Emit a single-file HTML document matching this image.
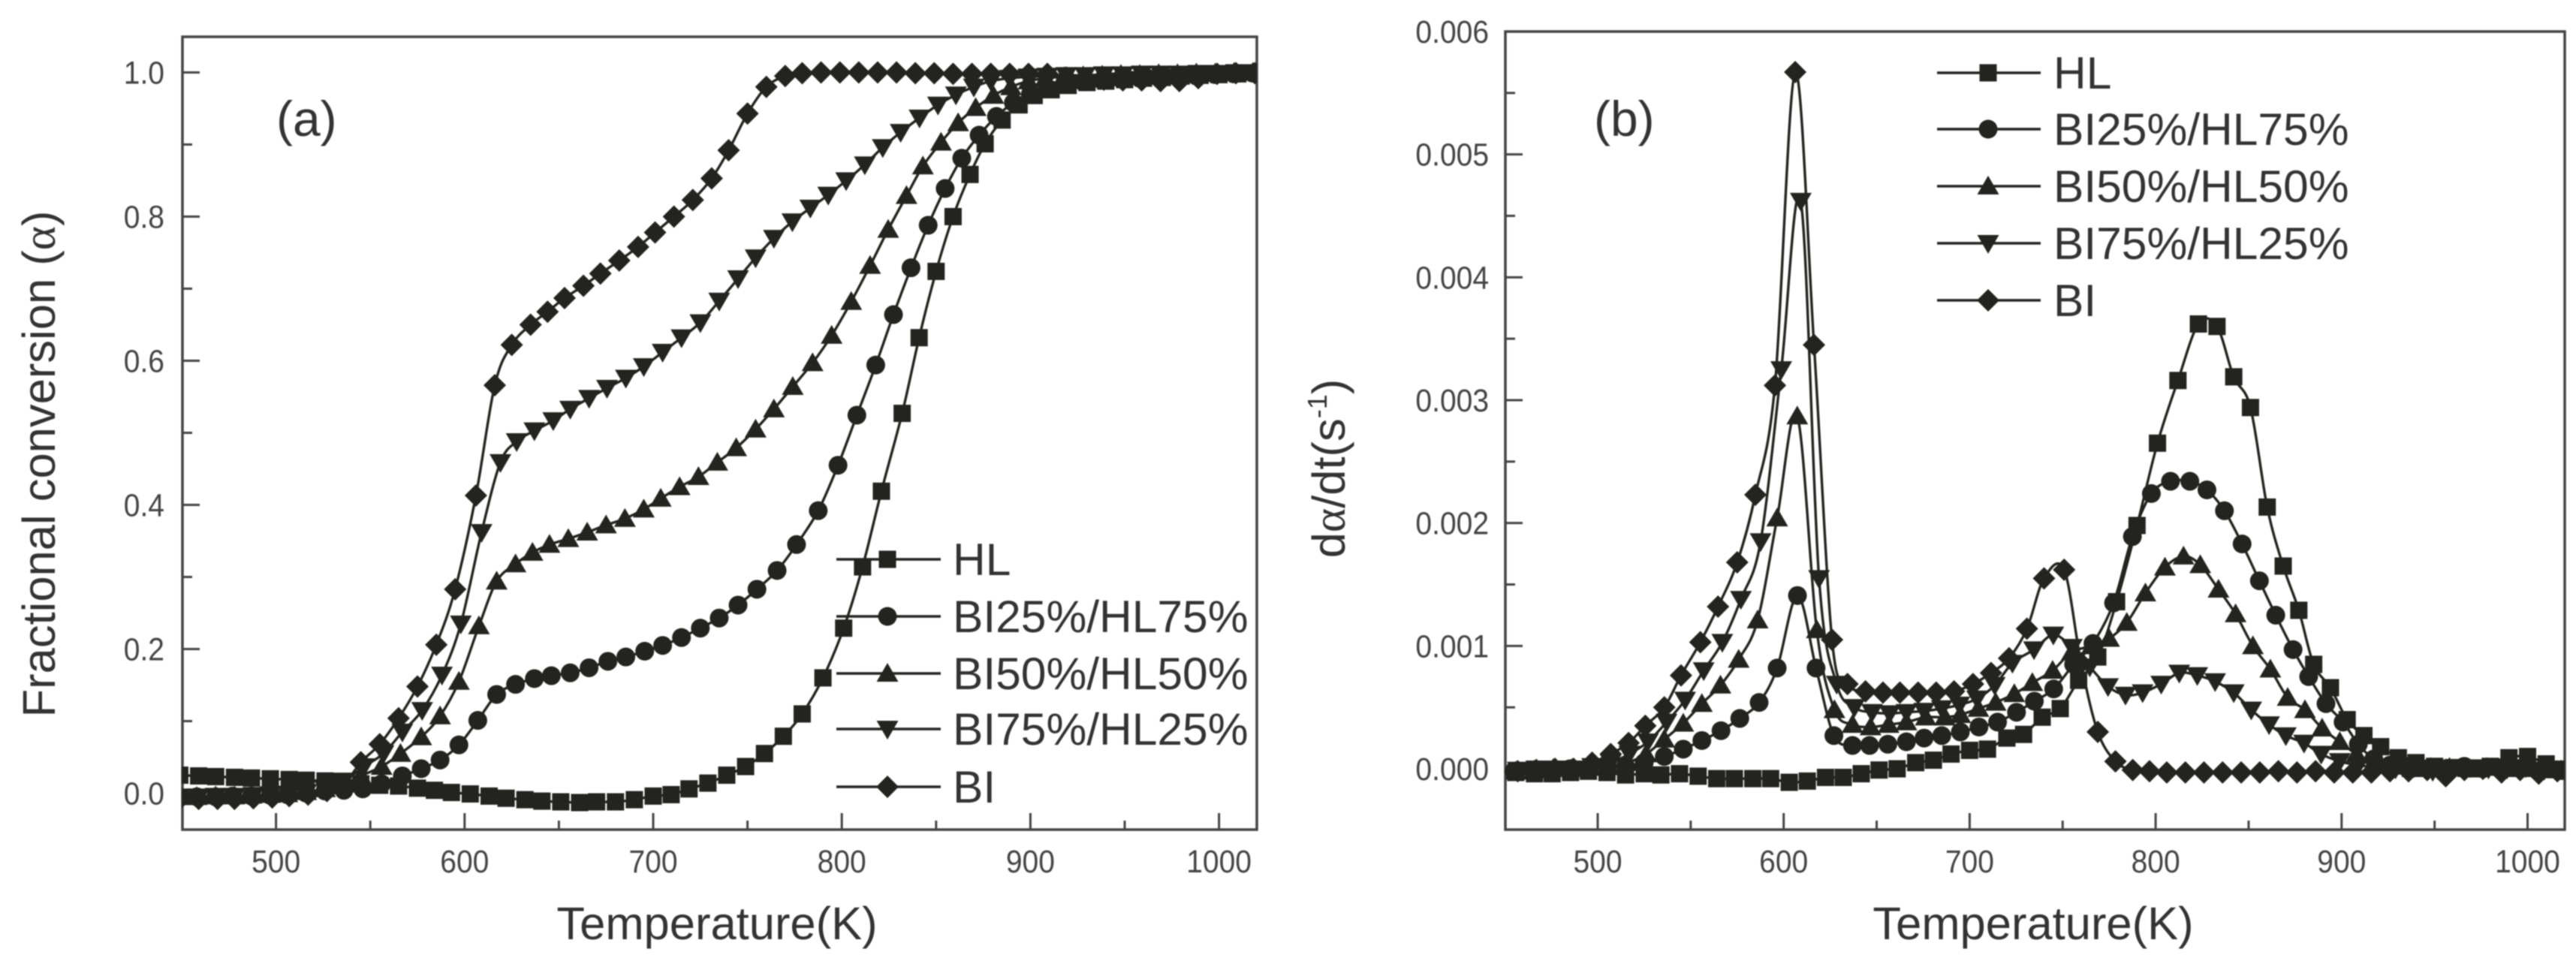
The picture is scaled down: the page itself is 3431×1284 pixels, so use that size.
<!DOCTYPE html>
<html lang="en">
<head>
<meta charset="utf-8">
<title>Fractional conversion and conversion rate vs temperature</title>
<style>
html,body{margin:0;padding:0;background:#fff;}
body{width:3431px;height:1284px;overflow:hidden;}
svg{display:block;filter:blur(0.7px);}
text{font-family:"Liberation Sans",sans-serif;fill:#333;}
.tick-label{font-size:39px;fill:#444;}
.axis-title{font-size:61.5px;}
.legend-label{font-size:60.5px;}
.panel-tag{font-size:66px;}
</style>
</head>
<body>
<svg id="figure" xmlns="http://www.w3.org/2000/svg" width="3431" height="1284" viewBox="0 0 3431 1284">
  <defs>
    <clipPath id="clip-a"><rect x="242" y="49" width="1432" height="1056"/></clipPath>
    <clipPath id="clip-b"><rect x="2004" y="42" width="1412" height="1063"/></clipPath>
  </defs>
  <g id="panel-a">
    <rect x="243" y="49" width="1431" height="1056" fill="none" stroke="#444" stroke-width="3.5"/>
    <g id="ticks-a"></g>
    <g id="series-a" clip-path="url(#clip-a)"></g>
    <g id="legend-a"></g>
    <text class="panel-tag" x="368" y="181">(a)</text>
    <text class="axis-title" x="955" y="1251" text-anchor="middle">Temperature(K)</text>
    <text class="axis-title" transform="translate(73,618) rotate(-90)" text-anchor="middle">Fractional conversion (<tspan font-family="Liberation Serif, serif">α</tspan>)</text>
  </g>
  <g id="panel-b">
    <rect x="2005" y="42" width="1411" height="1063" fill="none" stroke="#444" stroke-width="3.5"/>
    <g id="ticks-b"></g>
    <g id="series-b" clip-path="url(#clip-b)"></g>
    <g id="legend-b"></g>
    <text class="panel-tag" x="2123" y="181">(b)</text>
    <text class="axis-title" x="2708" y="1251" text-anchor="middle">Temperature(K)</text>
    <text class="axis-title" transform="translate(1791,624) rotate(-90)" text-anchor="middle">d<tspan font-family="Liberation Serif, serif">α</tspan>/dt(s<tspan font-size="36" dy="-24">-1</tspan><tspan dy="24">)</tspan></text>
  </g>
</svg>
<script>
// ---------- shared tick data ----------
const xTickValues = [500, 600, 700, 800, 900, 1000];
const xMinorValues = [550, 650, 750, 850, 950];
const aYTickValues = [0, 0.2, 0.4, 0.6, 0.8, 1.0];
const aYMinorValues = [0.1, 0.3, 0.5, 0.7, 0.9];
const bYTickValues = [0, 0.001, 0.002, 0.003, 0.004, 0.005, 0.006];
const bYMinorValues = [0.0005, 0.0015, 0.0025, 0.0035, 0.0045, 0.0055];
const legendNames = ['HL', 'BI25%/HL75%', 'BI50%/HL50%', 'BI75%/HL25%', 'BI'];
const seriesShapes = ['square', 'circle', 'up', 'down', 'diamond'];

// ---------- panel (a): fractional conversion ----------
const aHlT = [449,459,468,478,487,497,507,516,526,535,545,555,565,575,584,593,603,613,622,632,641,651,661,670,680,690,700,709.5,719,729,739,749,759,769,779,790,801,811,821,832,841,850,859,868,876,885,894,902,911,920,930,940,950,960,970,980,990,1000,1010,1020];
const aHlV = [.025,.024,.023,.022,.021,.020,.019,.018,.017,.016,.013,.011,.010,.007,.004,.001,-.001,-.004,-.007,-.009,-.011,-.012,-.013,-.012,-.012,-.009,-.004,-.002,.006,.014,.025,.037,.055,.079,.110,.160,.229,.314,.419,.527,.632,.724,.80,.8585,.901,.934,.955,.968,.976,.982,.986,.988,.99,.992,.993,.995,.996,.997,.998,.999];
const aBi25T = [449,458,468,477,487,497,506,516,526,536,546,556,567,577,587,597,607,617,627,637,646,656,666,676,685.5,695.5,705,715,725,735,745,755,765.7,776,787.5,798,808,818,827.4,836.7,845.8,854.8,863.6,872.8,882,891,900,909,918,928,938,948,958,968,978,988,998,1008,1018];
const aBi25V = [-.006,-.005,-.005,-.004,-.004,-.003,-.002,0,.003,.004,.006,.013,.024,.034,.046,.067,.101,.137,.151,.159,.163,.167,.174,.183,.189,.197,.205,.216,.229,.243,.261,.283,.309,.345,.392,.455,.5245,.594,.664,.729,.788,.839,.881,.913,.939,.958,.970,.978,.984,.987,.989,.991,.992,.993,.994,.995,.997,.998,.999];
const aBi50T = [449,458,468,478,487,497,506,516,526,536,545,556,566,577,587,597,607.6,617,627,636,645,655,665,675,685,695,704,714,724,734,744,754.3,764,774,784.5,794.6,805,815,824.6,834.3,843,852.6,861.7,871,880.4,889.7,899,908,918,928,938,948,958,968,978,988,998,1008,1018];
const aBi50V = [-.005,-.005,-.004,-.004,-.003,-.002,-.001,.002,.006,.013,.024,.037,.055,.078,.107,.155,.232,.294,.318,.334,.345,.353,.362,.372,.381,.394,.409,.425,.439,.459,.479,.505,.533,.564,.597,.635,.682,.732,.782,.829,.87,.903,.93,.951,.968,.98,.988,.992,.994,.995,.996,.997,.997,.998,.998,.999,.999,1,1];
const aBi75T = [449,459,468,478,488,497,507,516,526,536,546.6,557,567,577.5,588,598,609,619,627.6,637,647,656,666,675.5,685.5,695,705,715,725,735,745,754.3,764,773.8,783.3,792.8,802.3,812.2,821.7,831.2,841.2,851,860.5,870,879,889,899,909,919,929,939,949,959,969,979,989,999,1009,1019];
const aBi75V = [-.005,-.005,-.004,-.004,-.003,-.002,-.001,.001,.006,.017,.037,.055,.085,.115,.164,.235,.362,.459,.488,.503,.517,.533,.548,.562,.576,.592,.612,.632,.653,.683,.714,.743,.77,.793,.812,.83,.85,.872,.896,.917,.937,.955,.969,.98,.988,.992,.994,.995,.996,.996,.997,.997,.998,.998,.998,.999,.999,1,1];
const aBiT = [449,459,469,478,488,498,507,517,527,536,545,555,565,575,585,595,606,616,625,635,644,653,663,672,682,692,701,711,721,731,740,750,760,770,779,789,799,809,819,829,839,849,859,869,879,889,899,909,919,929,939,949,959,969,979,989,999,1009,1019];
const aBiV = [-.008,-.008,-.008,-.008,-.007,-.006,-.004,-.002,.003,.012,.043,.068,.104,.148,.206,.283,.413,.566,.622,.650,.668,.687,.704,.721,.739,.758,.778,.8,.823,.853,.892,.943,.98,.995,.999,1,1,1,1,1,.999,.999,.998,.998,.998,.998,.998,.998,.993,.991,.99,.989,.989,.988,.988,.992,.998,.999,.999];

// ---------- panel (b): conversion rate ----------
const bHlT = [456,466,475.5,485.4,495,505,515,525,534,544,554,564,573.5,583.4,593,603,612.7,622.5,632,641.7,651.3,661,671,680.5,690,700,709.6,720,729,739,748.7,758.6,768.9,779,790,801,812,823,833,842,851,860,868.6,877,885,894,903,912,921,930.5,940,950,960,970,980,990,1000,1010,1019];
const bHlV = [-.00003,-.00004,-.00004,-.00003,-.00002,-.00003,-.00005,-.00004,-.00005,-.00004,-.00006,-.00008,-.00008,-.00008,-.00008,-.00011,-.0001,-.00007,-.00007,-.00004,-.00001,0,.00005,.00007,.00012,.00015,.00016,.00025,.00028,.00042,.00049,.00072,.00091,.00136,.00198,.00265,.00316,.00362,.0036,.00319,.00294,.00213,.00165,.00129,.00085,.00066,.0004,.00027,.00018,.00009,.00005,.00002,.00001,0,.00002,.00009,.0001,.00004,-.00002];
const bBi25T = [455,465,475,485,495,505,515,525,535.8,546,556,566.3,576.4,586.8,596.5,607.4,617.4,627,637,646.2,656,666,675.5,685,695,705,715,725.2,734.8,745.2,755.9,766.3,777.4,787.5,797.7,808,818.4,827.6,837,846.5,855.8,864.6,873.9,882.3,891.6,900.8,909,917.3,926,936,946,956,966,976,986,996,1006,1016];
const bBi25V = [-.00002,-.00001,-.00001,0,0,.00001,.00002,.00005,.0001,.00016,.00023,.00031,.00041,.00054,.00082,.00141,.00082,.00027,.00019,.00019,.0002,.00022,.00025,.00027,.0003,.00034,.00038,.00046,.00055,.00065,.00085,.00102,.00135,.00189,.00224,.00234,.00234,.00227,.0021,.00183,.00153,.00125,.00097,.00075,.00053,.00038,.0002,.00008,.00003,.00002,0,0,.00002,0,.00001,0,-.00002,-.00001];
const bBi50T = [456,466,476,486,496,506,516,526,535.8,546,556,566,575.8,586,596.5,607.3,617.8,627.3,637,646.7,656.4,666,676.4,686.7,695,704.7,714,724,733.7,744.6,754.9,765.6,775,784.5,794.5,805,815,824,833.8,843,852.3,861.7,871,880.3,889.5,899,908,918,928,938,948,958,968,978,988,998,1008,1018];
const bBi50V = [-.00002,-.00001,0,0,.00001,.00002,.00005,.00012,.00024,.00037,.00053,.00068,.00089,.00121,.00204,.00287,.00113,.00048,.00036,.00034,.00036,.00038,.00042,.00042,.00044,.00049,.00054,.00061,.0007,.0008,.00095,.001,.00106,.00119,.00143,.00164,.00173,.00166,.00146,.00126,.001,.00081,.00058,.00048,.00033,.00022,.00012,.00005,.00002,0,.00001,.00001,0,.00001,0,0,-.00001,-.00001];
const bBi75T = [457,467,477,487,497,507,517,527,537,547,557,567,577,587.6,598.7,609.2,619,628.5,638,647.5,657,666,675.5,685,694.5,704,713.5,723,734.6,745,755,764.6,774.4,783.8,793,803,812.7,822.4,832,842,851.4,861,870,879.8,889,899,909,919,929,939,949,959,969,979,989,999,1009,1019];
const bBi75V = [-.00001,0,0,0,.00002,.00005,.00012,.00022,.00038,.00056,.0008,.00103,.00138,.00185,.00325,.00462,.00155,.00069,.0005,.00046,.00045,.00046,.00047,.00049,.00052,.00057,.00068,.00086,.00097,.00109,.00099,.00083,.00067,.0006,.00062,.00069,.00078,.00076,.00071,.00062,.00048,.00036,.00027,.00021,.00012,.00006,.00003,.00001,0,.00001,-.00002,0,.00001,0,0,.00001,-.00001,0];
const bBiT = [457,467,477,487,497,507,516.6,525.6,535.8,544.8,555.2,564.7,575,584.8,595.3,606.2,616.3,626,634.3,644,653.4,662.5,672.3,682,691.6,701.8,711.5,721.2,730.8,740,750.8,759.9,768.9,778.4,787.7,796.7,806,816,826,836,846,856,866,876,886,896,906,916,926,936,946,956,966,976,986,996,1006,1016];
const bBiV = [-.00002,-.00001,0,0,.00005,.00012,.00021,.00035,.0005,.00076,.00103,.00132,.00168,.00223,.00312,.00567,.00345,.00105,.00069,.00063,.00062,.00062,.00062,.00062,.00063,.00069,.00078,.0009,.00114,.00155,.00162,.00086,.0003,.00006,-.00001,-.00002,-.00003,-.00003,-.00003,-.00003,-.00003,-.00003,-.00002,-.00003,-.00002,-.00003,-.00003,-.00003,-.00002,-.00002,-.00001,-.00006,-.00001,0,-.00003,-.00001,-.00004,-.00002];

const NS = 'http://www.w3.org/2000/svg';
const INK = '#23231f';

function make(tag, attrs, parent) {
  const el = document.createElementNS(NS, tag);
  for (const k in attrs) el.setAttribute(k, attrs[k]);
  parent.appendChild(el);
  return el;
}

function drawMarker(shape, x, y, parent) {
  let el;
  if (shape === 'square') {
    el = make('rect', {x: x - 11.5, y: y - 11.5, width: 23, height: 23, fill: INK}, parent);
  } else if (shape === 'circle') {
    el = make('circle', {cx: x, cy: y, r: 12.5, fill: INK}, parent);
  } else if (shape === 'up') {
    el = make('polygon', {points: (x - 14.5) + ',' + (y + 11) + ' ' + (x + 14.5) + ',' + (y + 11) + ' ' + x + ',' + (y - 14), fill: INK}, parent);
  } else if (shape === 'down') {
    el = make('polygon', {points: (x - 14.5) + ',' + (y - 11) + ' ' + (x + 14.5) + ',' + (y - 11) + ' ' + x + ',' + (y + 14), fill: INK}, parent);
  } else {
    el = make('polygon', {points: (x - 15) + ',' + y + ' ' + x + ',' + (y - 15) + ' ' + (x + 15) + ',' + y + ' ' + x + ',' + (y + 15), fill: INK}, parent);
  }
  
  
  return el;
}

function smoothPath(pts) {
  let d = 'M' + pts[0][0].toFixed(1) + ' ' + pts[0][1].toFixed(1);
  for (let i = 0; i < pts.length - 1; i++) {
    const p0 = pts[Math.max(i - 1, 0)], p1 = pts[i], p2 = pts[i + 1], p3 = pts[Math.min(i + 2, pts.length - 1)];
    const c1x = p1[0] + (p2[0] - p0[0]) / 6, c1y = p1[1] + (p2[1] - p0[1]) / 6;
    const c2x = p2[0] - (p3[0] - p1[0]) / 6, c2y = p2[1] - (p3[1] - p1[1]) / 6;
    d += 'C' + c1x.toFixed(1) + ' ' + c1y.toFixed(1) + ' ' + c2x.toFixed(1) + ' ' + c2y.toFixed(1) + ' ' + p2[0].toFixed(1) + ' ' + p2[1].toFixed(1);
  }
  return d;
}

function drawPanel(cfg) {
  const ticks = document.getElementById(cfg.ticksId);
  const group = document.getElementById(cfg.seriesId);
  const legend = document.getElementById(cfg.legendId);

  xTickValues.forEach(function (v) {
    const x = cfg.xScale(v);
    const t = make('line', {x1: x, x2: x, y1: cfg.bottom, y2: cfg.bottom - 22, stroke: '#444', 'stroke-width': 3}, ticks);
    
    
    const l = make('text', {transform: 'translate(' + x + ',1162) scale(1,1.1)', 'text-anchor': 'middle', class: 'tick-label'}, ticks);
    l.textContent = String(v);
    
    
  });
  xMinorValues.forEach(function (v) {
    const x = cfg.xScale(v);
    const t = make('line', {x1: x, x2: x, y1: cfg.bottom, y2: cfg.bottom - 12, stroke: '#444', 'stroke-width': 3}, ticks);
    
    
  });
  cfg.yTicks.forEach(function (v) {
    const y = cfg.yScale(v);
    const t = make('line', {x1: cfg.left, x2: cfg.left + 23, y1: y, y2: y, stroke: '#444', 'stroke-width': 3}, ticks);
    
    
    const l = make('text', {transform: 'translate(' + cfg.labelRight + ',' + (y + 15) + ') scale(1,1.1)', 'text-anchor': 'end', class: 'tick-label'}, ticks);
    l.textContent = v.toFixed(cfg.digits);
    
    
  });
  cfg.yMinor.forEach(function (v) {
    const y = cfg.yScale(v);
    const t = make('line', {x1: cfg.left, x2: cfg.left + 13, y1: y, y2: y, stroke: '#444', 'stroke-width': 3}, ticks);
    
    
  });

  cfg.series.forEach(function (s, idx) {
    const g = make('g', {}, group);
    
    
    const n = Math.min(s[0].length, s[1].length);
    const pts = [];
    for (let i = 0; i < n; i++) pts.push([cfg.xScale(s[0][i]), cfg.yScale(s[1][i])]);
    const line = make('path', {d: smoothPath(pts), fill: 'none', stroke: INK, 'stroke-width': 3.4}, g);
    
    
    pts.forEach(function (p) { drawMarker(seriesShapes[idx], p[0], p[1], g); });
  });

  legendNames.forEach(function (name, idx) {
    const y = cfg.legendRows[idx];
    const g = make('g', {}, legend);
    
    
    const l = make('line', {x1: cfg.legendLine[0], x2: cfg.legendLine[1], y1: y, y2: y, stroke: INK, 'stroke-width': 3.4}, g);
    
    
    drawMarker(seriesShapes[idx], cfg.legendMarker, y, g);
    const t = make('text', {x: cfg.legendText, y: y + 21, class: 'legend-label'}, g);
    t.textContent = name;
    
    
  });
}

drawPanel({
  ticksId: 'ticks-a', seriesId: 'series-a', legendId: 'legend-a',
  xScale: function (t) { return 367.6 + (t - 500) * 2.512; },
  yScale: function (v) { return 1056.5 - v * 960; },
  left: 243, bottom: 1105, labelRight: 219, digits: 1,
  yTicks: aYTickValues, yMinor: aYMinorValues,
  series: [[aHlT, aHlV], [aBi25T, aBi25V], [aBi50T, aBi50V], [aBi75T, aBi75V], [aBiT, aBiV]],
  legendRows: [745, 821, 897, 971, 1048], legendLine: [1114, 1253], legendMarker: 1182, legendText: 1269
});

drawPanel({
  ticksId: 'ticks-b', seriesId: 'series-b', legendId: 'legend-b',
  xScale: function (t) { return 2128 + (t - 500) * 2.477; },
  yScale: function (v) { return 1024 - v * 163667; },
  left: 2005, bottom: 1105, labelRight: 1983, digits: 3,
  yTicks: bYTickValues, yMinor: bYMinorValues,
  series: [[bHlT, bHlV], [bBi25T, bBi25V], [bBi50T, bBi50V], [bBi75T, bBi75V], [bBiT, bBiV]],
  legendRows: [97, 172, 248, 324, 400], legendLine: [2580, 2718], legendMarker: 2648, legendText: 2735
});
</script>
</body>
</html>
